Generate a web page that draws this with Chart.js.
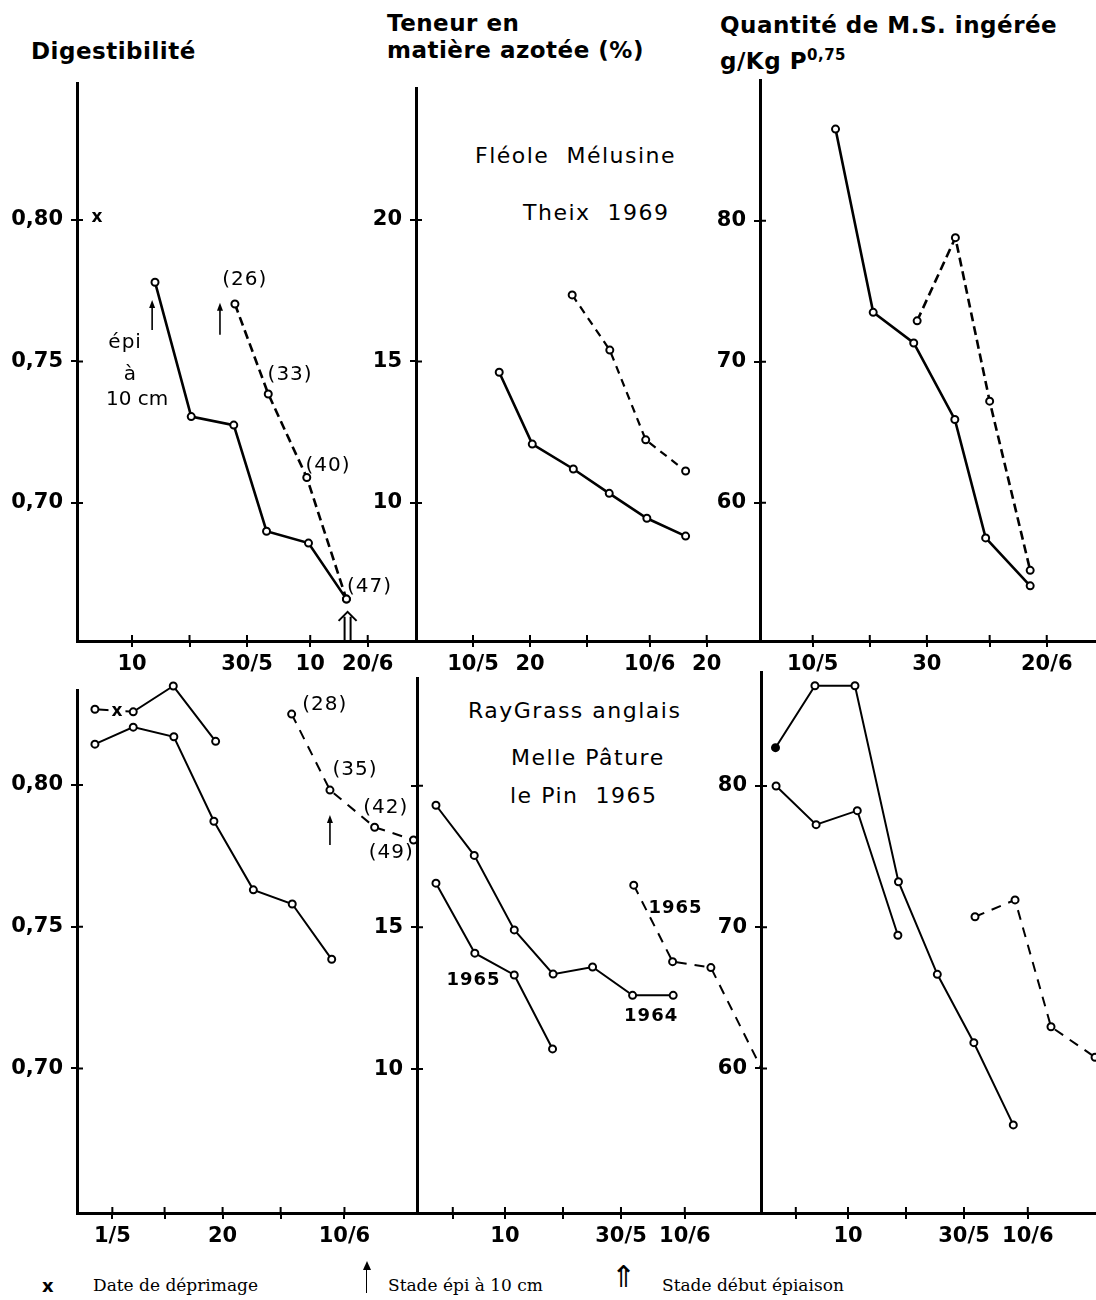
<!DOCTYPE html>
<html>
<head>
<meta charset="utf-8">
<script src="https://cdn.jsdelivr.net/npm/chart.js@4.4.1/dist/chart.umd.min.js"></script>
<style>
  body { margin: 0; background: #fff; width: 1096px; height: 1300px; position: relative; overflow: hidden; font-family: "DejaVu Sans", sans-serif; color: #000; }
  canvas { position: absolute; }
  .t { position: absolute; white-space: pre; line-height: 1; }
  .title { font-weight: bold; font-size: 23px; letter-spacing: 0.5px; }
  .cap { font-size: 22px; letter-spacing: 1.5px; }
  .leg { font-family: "DejaVu Serif", serif; font-size: 17px; }
  .stem { position: absolute; width: 0; border-left: 1.5px solid #000; }
  .head { position: absolute; width: 0; height: 0; border-left: 4px solid transparent; border-right: 4px solid transparent; border-bottom: 9px solid #000; }
</style>
</head>
<body>

<div class="t title" style="left:31px;top:40px">Digestibilité</div>
<div class="t title" style="left:387px;top:12px">Teneur en</div>
<div class="t title" style="left:387px;top:39px">matière azotée (%)</div>
<div class="t title" style="left:720px;top:14px">Quantité de M.S. ingérée</div>
<div class="t title" style="left:720px;top:48px">g/Kg P<sup style="font-size:15px;vertical-align:9px">0,75</sup></div>

<div class="t cap" style="left:475px;top:145px">Fléole  Mélusine</div>
<div class="t cap" style="left:523px;top:202px">Theix  1969</div>
<div class="t cap" style="left:468px;top:700px">RayGrass anglais</div>
<div class="t cap" style="left:511px;top:747px">Melle Pâture</div>
<div class="t cap" style="left:510px;top:785px">le Pin  1965</div>

<div class="t" style="left:42px;top:1277px;font-weight:bold;font-size:18px">x</div>
<div class="t leg" style="left:93px;top:1277px">Date de déprimage</div>
<div class="stem" style="left:366px;top:1266px;height:27px"></div>
<div class="head" style="left:363px;top:1261px"></div>
<div class="t leg" style="left:388px;top:1277px">Stade épi à 10 cm</div>
<div class="t" style="left:611px;top:1262px;font-size:30px">⇑</div>
<div class="t leg" style="left:662px;top:1277px">Stade début épiaison</div>

<script>
// x = jour compté depuis le 1er mai (1/5 = 1, 10/6 = 41)

// Fléole Mélusine, Theix 1969
const fleoleDigDays = [14, 20.3, 27.7, 33.4, 40.7, 47.3];
const fleoleDig = [0.778, 0.7305, 0.7275, 0.690, 0.6858, 0.666];
const fleoleDigDays2 = [27.9, 33.7, 40.4, 47.3];
const fleoleDig2 = [0.7703, 0.7385, 0.709, 0.666];

const fleoleMatDays = [14.6, 20.4, 27.6, 33.9, 40.5, 47.3];
const fleoleMat = [14.62, 12.08, 11.2, 10.34, 9.46, 8.83];
const fleoleMatDays2 = [27.4, 34.0, 40.3, 47.3];
const fleoleMat2 = [17.35, 15.40, 12.23, 11.13];

const fleoleMsiDays = [14.0, 20.6, 27.7, 34.9, 40.3, 48.1];
const fleoleMsi = [86.5, 73.5, 71.33, 65.9, 57.5, 54.1];
const fleoleMsiDays2 = [28.3, 35.0, 41.0, 48.1];
const fleoleMsi2 = [72.9, 78.8, 67.2, 55.2];

// RayGrass anglais, Melle Pâture, le Pin 1965
const rgDigDays1 = [-2, 4.6, 11.5, 18.8];
const rgDig1 = [0.8267, 0.8258, 0.8349, 0.8154];
const rgDigDays2 = [-2, 4.6, 11.6, 18.5, 25.3, 32, 38.8];
const rgDig2 = [0.8144, 0.8204, 0.8170, 0.7872, 0.763, 0.758, 0.7385];
const rgDigDays3 = [31.9, 38.5, 46.2, 52.9];
const rgDig3 = [0.825, 0.7982, 0.7851, 0.7806];

const rgMatDays1 = [-1.9, 4.7, 11.6, 18.3, 25.1, 32, 39];
const rgMat1 = [19.31, 17.54, 14.91, 13.35, 13.60, 12.60, 12.60];
const rgMatDays2 = [-1.9, 4.8, 11.6, 18.2];
const rgMat2 = [16.56, 14.09, 13.32, 10.71];
const rgMatDays3 = [32.2, 38.9, 45.5, 55];
const rgMat3 = [16.49, 13.79, 13.58, 9.7];

const rgMsiDays1 = [-2.5, 4.3, 11.2, 18.7, 25.4, 31.7, 38.5];
const rgMsi1 = [82.71, 87.1, 87.1, 73.22, 66.66, 61.82, 56.0];
const rgMsiDays2 = [-2.4, 4.5, 11.6, 18.6];
const rgMsi2 = [80.0, 77.26, 78.25, 69.43];
const rgMsiDays3 = [31.9, 38.8, 45, 52.6];
const rgMsi3 = [70.74, 71.93, 62.95, 60.79];

// ticks
const fleoleDayTicks = [10, 20, 30, 41, 51];
const rgDayTicks = [1, 10, 20, 30, 41];
const digTicks = [0.70, 0.75, 0.80];
const digLabels = ['0,70', '0,75', '0,80'];
const matTicks = [10, 15, 20];
const msiTicks = [60, 70, 80];

const PAD_L = 4, PAD_T = 30, PAD_R = 30, PAD_B = 4, YW = 75, XH = 40;

const notesPlugin = {
  id: 'notes',
  afterDatasetsDraw(chart, args, opts) {
    const ctx = chart.ctx, xs = chart.scales.x, ys = chart.scales.y;
    ctx.save();
    (opts.items || []).forEach(n => {
      const px = xs.getPixelForValue(n.x);
      ctx.strokeStyle = '#000';
      ctx.fillStyle = '#000';
      if (n.type === 'arrow') {
        const p1 = ys.getPixelForValue(n.from), p2 = ys.getPixelForValue(n.to);
        ctx.lineWidth = 1.6;
        ctx.beginPath(); ctx.moveTo(px, p1); ctx.lineTo(px, p2 + 5); ctx.stroke();
        ctx.beginPath(); ctx.moveTo(px, p2); ctx.lineTo(px - 3, p2 + 8); ctx.lineTo(px + 3, p2 + 8); ctx.closePath(); ctx.fill();
        return;
      }
      if (n.type === 'darrow') {
        const p1 = ys.getPixelForValue(n.from), p2 = ys.getPixelForValue(n.to);
        ctx.lineWidth = 2;
        ctx.beginPath();
        ctx.moveTo(px - 3, p1); ctx.lineTo(px - 3, p2 + 5);
        ctx.moveTo(px + 3, p1); ctx.lineTo(px + 3, p2 + 5);
        ctx.moveTo(px - 9, p2 + 9); ctx.lineTo(px, p2); ctx.lineTo(px + 9, p2 + 9);
        ctx.stroke();
        return;
      }
      const py = ys.getPixelForValue(n.y);
      ctx.font = n.font || '20px "DejaVu Sans"';
      ctx.letterSpacing = n.ls || '1px';
      ctx.textAlign = 'center';
      ctx.textBaseline = 'middle';
      if (n.bg) {
        const w = ctx.measureText(n.text).width + 6;
        ctx.fillStyle = '#fff';
        ctx.fillRect(px - w / 2, py - 6, w, 12);
        ctx.fillStyle = '#000';
      }
      ctx.fillText(n.text, px, py);
    });
    ctx.restore();
  }
};

// small marks on the inner side of the axes, so ticks cross the axis line
const crossTicks = {
  id: 'crossTicks',
  afterDraw(chart) {
    const ctx = chart.ctx, a = chart.chartArea;
    ctx.save();
    ctx.strokeStyle = '#000';
    ctx.lineWidth = 2;
    ctx.beginPath();
    chart.scales.y.ticks.forEach(t => {
      const py = chart.scales.y.getPixelForValue(t.value);
      ctx.moveTo(a.left, py); ctx.lineTo(a.left + 6, py);
    });
    chart.scales.x.ticks.forEach(t => {
      const px = chart.scales.x.getPixelForValue(t.value);
      ctx.moveTo(px, a.bottom); ctx.lineTo(px, a.bottom - 6);
    });
    ctx.stroke();
    ctx.restore();
  }
};

function series(days, vals, st) {
  return {
    data: days.map((d, i) => ({ x: d, y: vals[i] })),
    borderColor: '#000',
    borderWidth: st.w,
    borderDash: st.dash || [],
    pointRadius: 3.5,
    pointBorderWidth: 2,
    pointBorderColor: '#000',
    pointBackgroundColor: st.fill || '#fff',
    tension: 0,
    clip: st.clip === undefined ? false : st.clip
  };
}

const tickFont = { family: 'DejaVu Sans', size: 21, weight: 'bold' };

function makePanel(p) {
  const c = document.createElement('canvas');
  const left = p.box.l - YW - PAD_L, top = p.box.t - PAD_T;
  const w = p.box.r + PAD_R - left, h = p.box.b + XH + PAD_B - top;
  c.width = w; c.height = h;
  c.style.left = left + 'px'; c.style.top = top + 'px';
  c.style.width = w + 'px'; c.style.height = h + 'px';
  document.body.appendChild(c);

  new Chart(c, {
    type: 'line',
    data: { datasets: p.datasets },
    plugins: [notesPlugin, crossTicks],
    options: {
      responsive: false,
      animation: false,
      devicePixelRatio: 1,
      layout: { padding: { left: PAD_L, top: PAD_T, right: PAD_R, bottom: PAD_B } },
      plugins: {
        legend: { display: false },
        tooltip: { enabled: false },
        notes: { items: p.notes || [] }
      },
      scales: {
        x: {
          type: 'linear', min: p.xr[0], max: p.xr[1],
          afterBuildTicks: s => { s.ticks = p.xTicks.map(v => ({ value: v })); },
          afterFit: s => { s.height = XH; },
          ticks: { callback: (v, i) => p.xLabels[i], autoSkip: false, maxRotation: 0, padding: 5, color: '#000', font: tickFont },
          grid: { drawOnChartArea: false, tickLength: 6, color: '#000', lineWidth: 2 },
          border: { color: '#000', width: 3 }
        },
        y: {
          type: 'linear', min: p.yr[0], max: p.yr[1],
          afterBuildTicks: s => { s.ticks = p.yTicks.map(v => ({ value: v })); },
          afterFit: s => { s.width = YW; },
          ticks: { callback: (v, i) => p.yLabels[i], autoSkip: false, padding: 8, color: '#000', font: tickFont },
          grid: { drawOnChartArea: false, tickLength: 6, color: '#000', lineWidth: 2 },
          border: { color: '#000', width: 3 }
        }
      }
    }
  });
}

const topSolid = { w: 2.6 };
const topDash = { w: 2.6, dash: [9, 5] };
const botSolid = { w: 2 };
const botDash = { w: 2, dash: [10, 8] };

// Digestibilité, Fléole
makePanel({
  box: { l: 77, t: 83, r: 416, b: 641 },
  xr: [0.43, 59.4], yr: [0.6512, 0.8484],
  xTicks: fleoleDayTicks, xLabels: ['10', '', '30/5', '10', '20/6'],
  yTicks: digTicks, yLabels: digLabels,
  datasets: [series(fleoleDigDays, fleoleDig, topSolid), series(fleoleDigDays2, fleoleDig2, topDash)],
  notes: [
    { x: 29.6, y: 0.7788, text: '(26)' },
    { x: 37.5, y: 0.7452, text: '(33)' },
    { x: 44.1, y: 0.7132, text: '(40)' },
    { x: 51.3, y: 0.6704, text: '(47)' },
    { x: 3.9, y: 0.8007, text: 'x', font: 'bold 17px "DejaVu Sans"', ls: '0px' },
    { x: 8.8, y: 0.7565, text: 'épi' },
    { x: 9.7, y: 0.7452, text: 'à' },
    { x: 10.9, y: 0.7364, text: '10 cm', ls: '0px' },
    { type: 'arrow', x: 13.5, from: 0.7611, to: 0.7717 },
    { type: 'arrow', x: 25.3, from: 0.7594, to: 0.7707 },
    { type: 'darrow', x: 47.5, from: 0.6512, to: 0.6615 }
  ]
});

// Matière azotée, Fléole
makePanel({
  box: { l: 416, t: 88, r: 760, b: 641 },
  xr: [0, 60.35], yr: [5.124, 24.66],
  xTicks: fleoleDayTicks, xLabels: ['10/5', '20', '', '10/6', '20'],
  yTicks: matTicks, yLabels: ['10', '15', '20'],
  datasets: [series(fleoleMatDays, fleoleMat, topSolid), series(fleoleMatDays2, fleoleMat2, { w: 2.2, dash: [8, 6] })]
});

// Quantité ingérée, Fléole
makePanel({
  box: { l: 760, t: 80, r: 1096, b: 641 },
  xr: [0.77, 59.63], yr: [50.19, 89.98],
  xTicks: fleoleDayTicks, xLabels: ['10/5', '', '30', '', '20/6'],
  yTicks: msiTicks, yLabels: ['60', '70', '80'],
  datasets: [series(fleoleMsiDays, fleoleMsi, topSolid), series(fleoleMsiDays2, fleoleMsi2, topDash)]
});

// Digestibilité, RayGrass
makePanel({
  box: { l: 77, t: 690, r: 417, b: 1213 },
  xr: [-5.09, 53.5], yr: [0.649, 0.8335],
  xTicks: rgDayTicks, xLabels: ['1/5', '', '20', '', '10/6'],
  yTicks: digTicks, yLabels: digLabels,
  datasets: [series(rgDigDays1, rgDig1, botSolid), series(rgDigDays2, rgDig2, botSolid), series(rgDigDays3, rgDig3, botDash)],
  notes: [
    { x: 1.8, y: 0.8259, text: 'x', font: 'bold 17px "DejaVu Sans"', ls: '0px', bg: true },
    { x: 37.6, y: 0.8282, text: '(28)' },
    { x: 42.8, y: 0.8053, text: '(35)' },
    { x: 48.1, y: 0.7919, text: '(42)' },
    { x: 49.05, y: 0.776, text: '(49)' },
    { type: 'arrow', x: 38.5, from: 0.7788, to: 0.7894 }
  ]
});

// Matière azotée, RayGrass
makePanel({
  box: { l: 417, t: 678, r: 761, b: 1213 },
  xr: [-5.17, 54.14], yr: [4.92, 23.8],
  xTicks: rgDayTicks, xLabels: ['', '10', '', '30/5', '10/6'],
  yTicks: matTicks, yLabels: ['10', '15', ''],
  datasets: [series(rgMatDays1, rgMat1, botSolid), series(rgMatDays2, rgMat2, botSolid), series(rgMatDays3, rgMat3, { w: 2, dash: [10, 8], clip: true })],
  notes: [
    { x: 4.57, y: 13.12, text: '1965', font: 'bold 18px "DejaVu Sans"' },
    { x: 35.2, y: 11.87, text: '1964', font: 'bold 18px "DejaVu Sans"' },
    { x: 39.4, y: 15.68, text: '1965', font: 'bold 18px "DejaVu Sans"' }
  ]
});

// Quantité ingérée, RayGrass
makePanel({
  box: { l: 761, t: 672, r: 1096, b: 1213 },
  xr: [-5, 52.76], yr: [49.76, 88.07],
  xTicks: rgDayTicks, xLabels: ['', '10', '', '30/5', '10/6'],
  yTicks: msiTicks, yLabels: ['60', '70', '80'],
  datasets: [
    series(rgMsiDays1, rgMsi1, { w: 2, fill: ['#000', '#fff', '#fff', '#fff', '#fff', '#fff', '#fff'] }),
    series(rgMsiDays2, rgMsi2, botSolid),
    series(rgMsiDays3, rgMsi3, botDash)
  ]
});
</script>
</body>
</html>
